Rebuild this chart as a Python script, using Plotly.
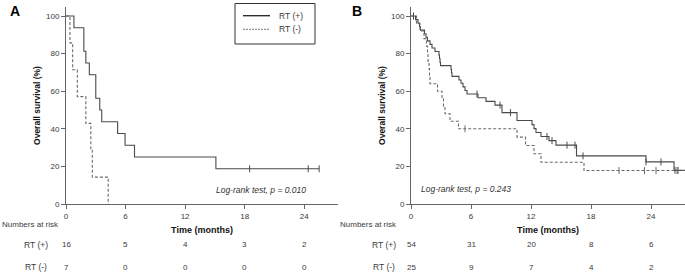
import plotly.graph_objects as go

# ---------------- data ----------------
# Panel A
A_plus_t = [0, 0.8, 1.8, 2.0, 2.35, 3.0, 3.4, 3.6, 5.2, 5.95, 6.9, 15.1, 25.5]
A_plus_s = [100, 93.75, 81.25, 75, 68.75, 56.25, 50, 43.75, 37.5, 31.25, 25, 18.75, 18.75]
A_plus_cens_t = [18.5, 24.4, 25.5]
A_plus_cens_s = [18.75, 18.75, 18.75]

A_minus_t = [0, 0.4, 0.67, 1.14, 2.0, 2.5, 2.65, 4.25]
A_minus_s = [100, 85.7, 71.4, 57.1, 42.9, 28.6, 14.3, 0]

# Panel B
B_plus_t = [0, 0.45, 0.7, 0.85, 0.95, 1.35, 1.5, 1.65, 1.9, 2.1, 2.4, 2.8, 2.85, 2.9, 2.95,
            4.0, 4.05, 4.1, 4.8, 5.0, 5.2, 5.4, 5.6, 6.7, 7.5, 8.4, 9.1, 10.6, 12.1, 12.3,
            12.5, 13.0, 13.8, 14.5, 16.55, 23.5, 26.3, 27.4]
B_plus_s = [100, 98.1, 96.2, 94.3, 92.5, 90.6, 88.7, 86.8, 84.9, 83.0, 81.1, 79.2, 77.4, 75.5, 73.6,
            71.7, 69.8, 67.9, 66.0, 64.2, 62.3, 60.4, 58.5, 56.5, 54.6, 52.6, 48.6, 44.4, 42.2, 40.1,
            38.0, 35.9, 33.7, 31.3, 25.6, 22.4, 17.9, 17.9]
B_plus_cens_t = [0.25, 6.6, 8.9, 9.95, 13.6, 14.1, 15.6, 16.4, 17.2, 23.5, 25.0, 26.4, 26.7]
B_plus_cens_s = [100, 58.5, 52.6, 48.6, 35.9, 33.7, 31.3, 31.3, 25.6, 22.4, 22.4, 17.9, 17.9]

B_minus_t = [0, 0.55, 0.9, 1.3, 1.55, 1.65, 1.7, 1.8, 1.85, 1.9, 2.65, 3.1, 3.25, 3.4, 3.9, 4.75,
             10.6, 11.45, 12.3, 13.0, 17.3, 27.4]
B_minus_s = [100, 96, 92, 88, 84, 80, 76, 72, 68, 64, 60, 56, 52, 48, 44, 40,
             35.6, 31.1, 26.7, 22.2, 17.8, 17.8]
B_minus_cens_t = [5.4, 20.8, 23.35, 24.5, 26.6]
B_minus_cens_s = [40, 17.8, 17.8, 17.8, 17.8]

# Risk tables
risk_times = [0, 6, 12, 18, 24]
A_risk_plus = [16, 5, 4, 3, 2]
A_risk_minus = [7, 0, 0, 0, 0]
B_risk_plus = [54, 31, 20, 8, 6]
B_risk_minus = [25, 9, 7, 4, 2]

group_labels = ["RT (+)", "RT (-)"]
x_ticks = [0, 6, 12, 18, 24]
y_ticks = [0, 20, 40, 60, 80, 100]
A_pvalue = "Log-rank test, <i>p</i> = 0.010"
B_pvalue = "Log-rank test, <i>p</i> = 0.243"

# ---------------- styling ----------------
FONT = "Arial, Liberation Sans, sans-serif"
W, H = 685, 276
SOLID = "#4a4a4a"
DASHC = "#6a6a6a"
AXC = "#666666"
TXT = "#3a3a3a"
DASH = "3px,2px"

def px(xp):
    return xp / W

def py(yp):
    return (H - yp) / H

fig = go.Figure()

def add_panel(xa, ya, plus_t, plus_s, pc_t, pc_s, minus_t, minus_s, mc_t, mc_s):
    fig.add_trace(go.Scatter(x=plus_t, y=plus_s, mode="lines", line=dict(shape="hv", color=SOLID, width=1.1),
                             name=group_labels[0], showlegend=False, xaxis=xa, yaxis=ya, hoverinfo="skip"))
    fig.add_trace(go.Scatter(x=minus_t, y=minus_s, mode="lines",
                             line=dict(shape="hv", color=DASHC, width=1.1, dash=DASH),
                             name=group_labels[1], showlegend=False, xaxis=xa, yaxis=ya, hoverinfo="skip"))
    if pc_t:
        fig.add_trace(go.Scatter(x=pc_t, y=pc_s, mode="markers", showlegend=False, xaxis=xa, yaxis=ya,
                                 marker=dict(symbol="line-ns", size=5, line=dict(color=SOLID, width=1)),
                                 hoverinfo="skip"))
    if mc_t:
        fig.add_trace(go.Scatter(x=mc_t, y=mc_s, mode="markers", showlegend=False, xaxis=xa, yaxis=ya,
                                 marker=dict(symbol="line-ns", size=5, line=dict(color=DASHC, width=1)),
                                 hoverinfo="skip"))

add_panel("x", "y", A_plus_t, A_plus_s, A_plus_cens_t, A_plus_cens_s, A_minus_t, A_minus_s, [], [])
add_panel("x2", "y2", B_plus_t, B_plus_s, B_plus_cens_t, B_plus_cens_s, B_minus_t, B_minus_s,
          B_minus_cens_t, B_minus_cens_s)

ydom = [py(204), py(7)]
common_x = dict(range=[0, 27.4], tickvals=x_ticks, showgrid=False, zeroline=False, showline=True,
                linecolor=AXC, linewidth=1, ticks="outside", ticklen=4, tickcolor=AXC,
                tickfont=dict(family=FONT, size=8, color=TXT), automargin=False,
                title=dict(text="<b>Time (months)</b>", font=dict(family=FONT, size=9, color="#111"), standoff=7))
common_y = dict(range=[0, 104.8], tickvals=y_ticks, showgrid=False, zeroline=False, showline=True,
                linecolor=AXC, linewidth=1, ticks="outside", ticklen=4, tickcolor=AXC,
                tickfont=dict(family=FONT, size=8, color=TXT), automargin=False,
                title=dict(text="<b>Overall survival (%)</b>", font=dict(family=FONT, size=8.5, color="#111"),
                           standoff=4))

fig.update_layout(
    width=W, height=H,
    margin=dict(l=0, r=0, t=0, b=0, autoexpand=False),
    paper_bgcolor="white", plot_bgcolor="white",
    font=dict(family=FONT, size=8, color=TXT),
    xaxis=dict(domain=[px(66), px(338)], anchor="y", **common_x),
    yaxis=dict(domain=ydom, anchor="x", **common_y),
    xaxis2=dict(domain=[px(411), px(685)], anchor="y2", **common_x),
    yaxis2=dict(domain=ydom, anchor="x2", **common_y),
    showlegend=False,
)

shapes = []
# legend box (panel A)
shapes.append(dict(type="rect", xref="paper", yref="paper", x0=px(235), x1=px(315), y0=py(44), y1=py(3.5),
                   line=dict(color="#333", width=1), fillcolor="white", layer="above"))
shapes.append(dict(type="line", xref="paper", yref="paper", x0=px(243), x1=px(270), y0=py(15.7), y1=py(15.7),
                   line=dict(color="#222", width=1.3), layer="above"))
shapes.append(dict(type="line", xref="paper", yref="paper", x0=px(243), x1=px(270), y0=py(29.3), y1=py(29.3),
                   line=dict(color="#777", width=1, dash="2px,1px"), layer="above"))

ann = []
for lab, yy in zip(group_labels, [15.7, 29.3]):
    ann.append(dict(text=lab, x=px(277), y=py(yy), xref="paper", yref="paper", xanchor="left",
                    yanchor="middle", showarrow=False, font=dict(family=FONT, size=8.5, color=TXT)))
# panel letters
ann.append(dict(text="<b>A</b>", x=px(8), y=py(1), xref="paper", yref="paper", xanchor="left", yanchor="top",
                showarrow=False, font=dict(family=FONT, size=14, color="#000")))
ann.append(dict(text="<b>B</b>", x=px(350), y=py(1), xref="paper", yref="paper", xanchor="left", yanchor="top",
                showarrow=False, font=dict(family=FONT, size=14, color="#000")))
# p-values
ann.append(dict(text="<i>" + A_pvalue + "</i>", x=24.4, y=7.4, xref="x", yref="y", xanchor="right",
                yanchor="middle", showarrow=False, font=dict(family=FONT, size=8.5, color="#333")))
ann.append(dict(text="<i>" + B_pvalue + "</i>", x=0.8, y=8.0, xref="x2", yref="y2", xanchor="left",
                yanchor="middle", showarrow=False, font=dict(family=FONT, size=8.5, color="#333")))

# risk tables
for xr, left, lab_c, rp, rm in [("x", 0, 36, A_risk_plus, A_risk_minus),
                                ("x2", 338, 384, B_risk_plus, B_risk_minus)]:
    ann.append(dict(text="Numbers at risk", x=px(left), y=py(224), xref="paper", yref="paper",
                    xanchor="left", yanchor="middle", showarrow=False,
                    font=dict(family=FONT, size=8, color=TXT)))
    for lab, yy in zip(group_labels, [245, 267]):
        ann.append(dict(text=lab, x=px(lab_c), y=py(yy), xref="paper", yref="paper", xanchor="center",
                        yanchor="middle", showarrow=False, font=dict(family=FONT, size=8.5, color=TXT)))
    for vals, yy in zip([rp, rm], [245, 267]):
        for t, v in zip(risk_times, vals):
            ann.append(dict(text=str(v), x=t, y=py(yy), xref=xr, yref="paper", xanchor="center",
                            yanchor="middle", showarrow=False, font=dict(family=FONT, size=8, color=TXT)))

fig.update_layout(annotations=ann, shapes=shapes)
fig.write_html("out.html", config={"displayModeBar": False},
               post_script="document.body.style.margin='0';document.body.style.overflow='hidden';")
